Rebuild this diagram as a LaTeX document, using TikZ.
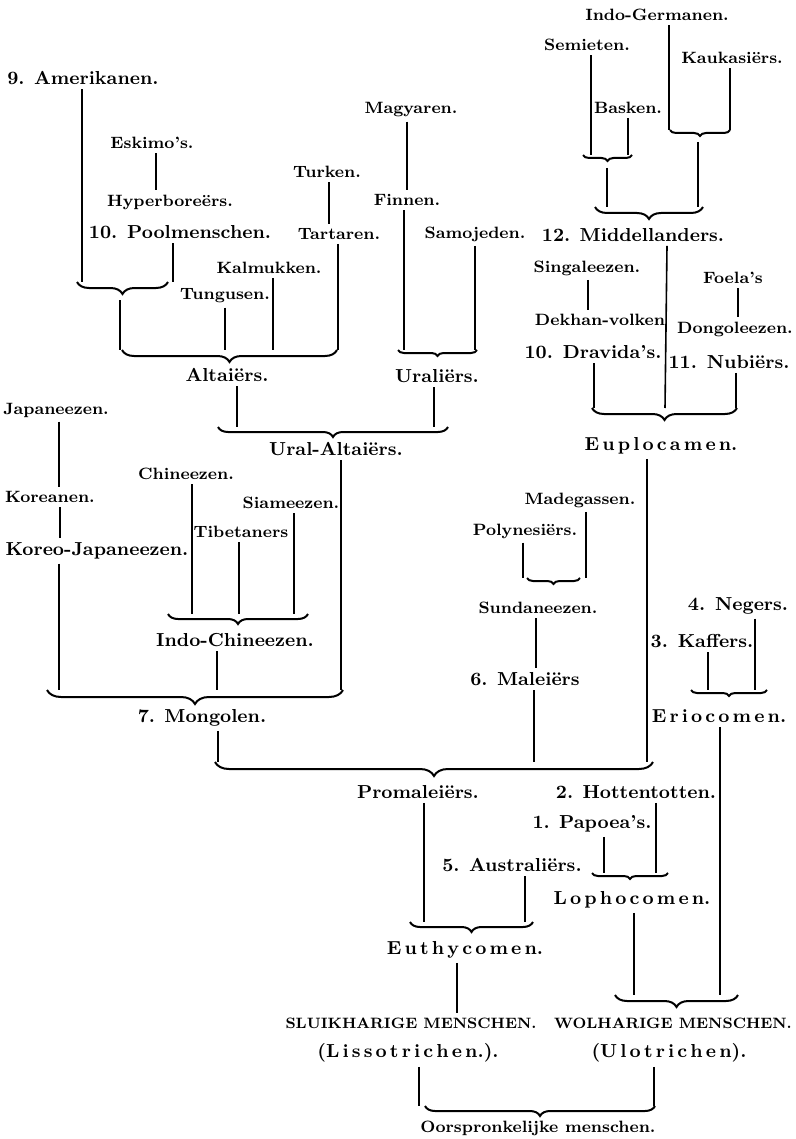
\documentclass[tikz,border=0pt]{standalone}
\usepackage{tikz}
\usetikzlibrary{decorations.pathreplacing}
\tikzset{
  bigname/.style={
    font=\fontsize{9.4}{11}\selectfont\bfseries, inner sep=2pt
  },
  smallname/.style={
    font=\fontsize{8.2}{10}\selectfont\bfseries, inner sep=2pt
  },
  capsname/.style={
    font=\fontsize{7.5}{9}\selectfont\bfseries, inner sep=2pt
  },
  stemline/.style={line width=0.8pt},
  bracebar/.style={
    decorate, decoration={brace, mirror, amplitude=#1}, line width=1pt
  },
}
\begin{document}
\begin{tikzpicture}[x=0.5pt, y=-0.5pt]
  \useasboundingbox (0,0) rectangle (796,1139);

  % ── Amerikanen, Poolmenschen, Altaiërs ──────────────────────────
  \node[bigname] (ameri) at (83,78) {9.\enspace Amerikanen.};
  \node[smallname] (eskimo) at (152,143) {Eskimo's.};
  \node[smallname] (hyper) at (170,202) {Hyperboreërs.};
  \node[bigname] (pool) at (180,232) {10. Poolmenschen.};
  \node[smallname] (turken) at (327,172) {Turken.};
  \node[smallname] (tartar) at (339,234) {Tartaren.};
  \node[smallname] (kalmuk) at (269,268) {Kalmukken.};
  \node[smallname] (tungus) at (225,296) {Tungusen.};
  \node[bigname] (altai) at (227,375) {Altaiërs.};

  % ── Uraliërs ────────────────────────────────────────────────────
  \node[smallname] (magyar) at (411,110) {Magyaren.};
  \node[smallname] (finnen) at (407,200) {Finnen.};
  \node[smallname] (samoj) at (475,234) {Samojeden.};
  \node[bigname] (urali) at (437,376) {Uraliërs.};
  \node[bigname] (uralalt) at (336,449) {Ural-Altaiërs.};

  % ── Middellanders ───────────────────────────────────────────────
  \node[smallname] (indoger) at (657,15) {Indo-Germanen.};
  \node[smallname] (semiet) at (587,45) {Semieten.};
  \node[smallname] (kaukas) at (732,58) {Kaukasiërs.};
  \node[smallname] (basken) at (628,108) {Basken.};
  \node[bigname] (midd) at (633,235) {12.\enspace Middellanders.};
  \node[smallname] (singal) at (587,268) {Singaleezen.};
  \node[smallname] (dekhan) at (600,320) {Dekhan-volken};
  \node[bigname] (drav) at (593,352) {10. Dravida's.};
  \node[smallname] (foela) at (733,278) {Foela's};
  \node[smallname] (dongol) at (735,329) {Dongoleezen.};
  \node[bigname] (nubi) at (729,362) {11. Nubiërs.};
  \node[bigname] (eupl) at (661,446) {E\,u\,p\,l\,o\,c\,a\,m\,e\,n.};

  % ── Mongolen ────────────────────────────────────────────────────
  \node[smallname] (japan) at (56,410) {Japaneezen.};
  \node[smallname] (korean) at (50,497) {Koreanen.};
  \node[bigname] (koreo) at (97,551) {Koreo-Japaneezen.};
  \node[smallname] (chinee) at (186,474) {Chineezen.};
  \node[smallname] (siamee) at (291,503) {Siameezen.};
  \node[smallname] (tibet) at (241,532) {Tibetaners};
  \node[bigname] (indoch) at (235,640) {Indo-Chineezen.};
  \node[bigname] (mongo) at (202,718) {7.\enspace Mongolen.};

  % ── Maleiërs and Eriocomen ──────────────────────────────────────
  \node[smallname] (madeg) at (580,500) {Madegassen.};
  \node[smallname] (polyn) at (525,531) {Polynesiërs.};
  \node[smallname] (sunda) at (538,608) {Sundaneezen.};
  \node[bigname] (malei) at (525,679) {6.\enspace Maleiërs};
  \node[bigname] (neger) at (738,606) {4. Negers.};
  \node[bigname] (kaffer) at (702,641) {3. Kaffers.};
  \node[bigname] (erio) at (719,716) {E\,r\,i\,o\,c\,o\,m\,e\,n.};

  % ── Promaleiërs, Lophocomen, Euthycomen ─────────────────────────
  \node[bigname] (proma) at (418,792) {Promaleiërs.};
  \node[bigname] (hotten) at (636,792) {2.\enspace Hottentotten.};
  \node[bigname] (papoea) at (592,824) {1.\enspace Papoea's.};
  \node[bigname] (austr) at (512,865) {5.\enspace Australiërs.};
  \node[bigname] (lopho) at (632,900) {L\,o\,p\,h\,o\,c\,o\,m\,e\,n.};
  \node[bigname] (euthy) at (465,950) {E\,u\,t\,h\,y\,c\,o\,m\,e\,n.};

  % ── Root ────────────────────────────────────────────────────────
  \node[capsname] (sluik) at (411,1023) {SLUIKHARIGE MENSCHEN.};
  \node[capsname] (wolh) at (673,1023) {WOLHARIGE MENSCHEN.};
  \node[bigname] (lisso) at (408,1053) {(L\,i\,s\,s\,o\,t\,r\,i\,c\,h\,e\,n.).};
  \node[bigname] (ulot) at (669,1053) {(U\,l\,o\,t\,r\,i\,c\,h\,e\,n).};
  \node[smallname] (oorspr) at (538,1128) {Oorspronkelijke menschen.};

  % ── Braces ──────────────────────────────────────────────────────
  \coordinate (ameL) at (77,282);   \coordinate (ameR) at (168,282);
  \coordinate (altL) at (122,350);  \coordinate (altR) at (337,350);
  \coordinate (uraL) at (398,350);  \coordinate (uraR) at (477,350);
  \coordinate (uaL) at (218,427);   \coordinate (uaR) at (448,427);
  \coordinate (semL) at (583,155);  \coordinate (semR) at (632,155);
  \coordinate (igkL) at (670,130);  \coordinate (igkR) at (730,130);
  \coordinate (midL) at (595,207);  \coordinate (midR) at (703,207);
  \coordinate (eupL) at (592,408);  \coordinate (eupR) at (737,408);
  \coordinate (polL) at (527,578);  \coordinate (polR) at (580,578);
  \coordinate (eriL) at (691,690);  \coordinate (eriR) at (767,690);
  \coordinate (ichL) at (168,614);  \coordinate (ichR) at (308,614);
  \coordinate (monL) at (47,690);   \coordinate (monR) at (343,690);
  \coordinate (proL) at (215,762);  \coordinate (proR) at (653,762);
  \coordinate (lopL) at (592,873);  \coordinate (lopR) at (668,873);
  \coordinate (eutL) at (410,922);  \coordinate (eutR) at (533,922);
  \coordinate (wolL) at (615,995);  \coordinate (wolR) at (738,995);
  \coordinate (oorL) at (425,1106); \coordinate (oorR) at (655,1106);

  \draw[bracebar=6pt] (ameL) -- (ameR);
  \draw[bracebar=6pt] (altL) -- (altR);
  \draw[bracebar=3pt] (uraL) -- (uraR);
  \draw[bracebar=5pt] (uaL) -- (uaR);
  \draw[bracebar=3pt] (semL) -- (semR);
  \draw[bracebar=3pt] (igkL) -- (igkR);
  \draw[bracebar=6pt] (midL) -- (midR);
  \draw[bracebar=6pt] (eupL) -- (eupR);
  \draw[bracebar=3pt] (polL) -- (polR);
  \draw[bracebar=3pt] (eriL) -- (eriR);
  \draw[bracebar=5pt] (ichL) -- (ichR);
  \draw[bracebar=7pt] (monL) -- (monR);
  \draw[bracebar=7pt] (proL) -- (proR);
  \draw[bracebar=3pt] (lopL) -- (lopR);
  \draw[bracebar=5pt] (eutL) -- (eutR);
  \draw[bracebar=6pt] (wolL) -- (wolR);
  \draw[bracebar=5pt] (oorL) -- (oorR);

  % brace tips that carry on downwards
  \coordinate (ameT) at (120,300);
  \coordinate (semT) at (607,168);
  \coordinate (igkT) at (698,142);

  % ── Stems ───────────────────────────────────────────────────────
  \draw[stemline] (ameri.south -| 82,0) -- (82,0 |- ameL);
  \draw[stemline] (eskimo.south -| 156,0) -- (hyper.north -| 156,0);
  \draw[stemline] (pool.south -| 173,0) -- (173,0 |- ameL);
  \draw[stemline] (turken.south -| 329,0) -- (tartar.north -| 329,0);
  \draw[stemline] (tartar.south -| 338,0) -- (338,0 |- altL);
  \draw[stemline] (kalmuk.south -| 273,0) -- (273,0 |- altL);
  \draw[stemline] (tungus.south -| 225,0) -- (225,0 |- altL);
  \draw[stemline] (ameT) -- (ameT |- altL);
  \draw[stemline] (altai.south -| 237,0) -- (237,0 |- uaL);

  \draw[stemline] (magyar.south -| 407,0) -- (finnen.north -| 407,0);
  \draw[stemline] (finnen.south -| 404,0) -- (404,0 |- uraL);
  \draw[stemline] (samoj.south -| 475,0) -- (475,0 |- uraL);
  \draw[stemline] (urali.south -| 434,0) -- (434,0 |- uaL);
  \draw[stemline] (uralalt.south -| 341,0) -- (341,0 |- monL);

  \draw[stemline] (indoger.south -| 669,0) -- (669,0 |- igkL);
  \draw[stemline] (kaukas.south -| 730,0) -- (730,0 |- igkL);
  \draw[stemline] (semiet.south -| 591,0) -- (591,0 |- semL);
  \draw[stemline] (basken.south -| 628,0) -- (628,0 |- semL);
  \draw[stemline] (semT) -- (semT |- midL);
  \draw[stemline] (igkT) -- (igkT |- midL);
  \draw[stemline] (midd.south -| 667,0) -- (665,0 |- eupL);
  \draw[stemline] (singal.south -| 588,0) -- (dekhan.north -| 588,0);
  \draw[stemline] (drav.south -| 594,0) -- (594,0 |- eupL);
  \draw[stemline] (foela.south -| 738,0) -- (dongol.north -| 738,0);
  \draw[stemline] (nubi.south -| 736,0) -- (736,0 |- eupL);
  \draw[stemline] (eupl.south -| 647,0) -- (647,0 |- proL);

  \draw[stemline] (japan.south -| 59,0) -- (korean.north -| 59,0);
  \draw[stemline] (korean.south -| 60,0) -- (koreo.north -| 60,0);
  \draw[stemline] (koreo.south -| 59,0) -- (59,0 |- monL);
  \draw[stemline] (chinee.south -| 192,0) -- (192,0 |- ichL);
  \draw[stemline] (tibet.south -| 239,0) -- (239,0 |- ichL);
  \draw[stemline] (siamee.south -| 294,0) -- (294,0 |- ichL);
  \draw[stemline] (indoch.south -| 217,0) -- (217,0 |- monL);
  \draw[stemline] (mongo.south -| 218,0) -- (218,0 |- proL);

  \draw[stemline] (madeg.south -| 586,0) -- (586,0 |- polL);
  \draw[stemline] (polyn.south -| 523,0) -- (523,0 |- polL);
  \draw[stemline] (sunda.south -| 536,0) -- (malei.north -| 536,0);
  \draw[stemline] (malei.south -| 534,0) -- (534,0 |- proL);
  \draw[stemline] (neger.south -| 755,0) -- (755,0 |- eriL);
  \draw[stemline] (kaffer.south -| 708,0) -- (708,0 |- eriL);
  \draw[stemline] (erio.south -| 720,0) -- (720,0 |- wolL);

  \draw[stemline] (proma.south -| 424,0) -- (424,0 |- eutL);
  \draw[stemline] (austr.south -| 525,0) -- (525,0 |- eutL);
  \draw[stemline] (hotten.south -| 656,0) -- (656,0 |- lopL);
  \draw[stemline] (papoea.south -| 604,0) -- (604,0 |- lopL);
  \draw[stemline] (lopho.south -| 634,0) -- (634,0 |- wolL);
  \draw[stemline] (euthy.south -| 457,0) -- (sluik.north -| 457,0);
  \draw[stemline] (lisso.south -| 419,0) -- (419,0 |- oorL);
  \draw[stemline] (ulot.south -| 654,0) -- (654,0 |- oorL);
\end{tikzpicture}
\end{document}
